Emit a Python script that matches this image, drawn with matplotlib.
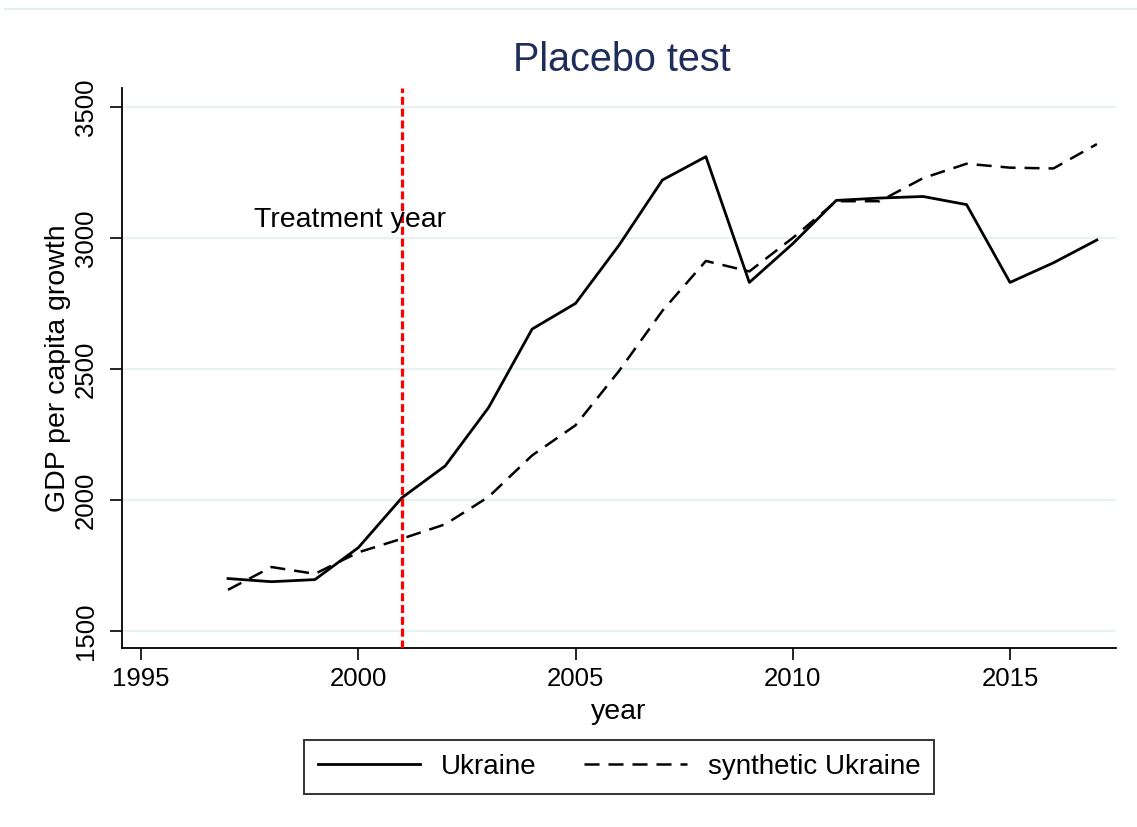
import numpy as np
import matplotlib
matplotlib.use("Agg")
import matplotlib.pyplot as plt
from matplotlib.lines import Line2D

plt.rcParams['font.family'] = ['Liberation Sans', 'DejaVu Sans']

years = list(range(1997, 2018))
ukraine = [1700, 1688, 1696, 1818, 2008, 2130, 2353, 2652, 2750, 2972, 3221,
           3310, 2830, 2978, 3143, 3152, 3158, 3127, 2830, 2905, 2992]
synthetic = [1657, 1744, 1718, 1800, 1852, 1907, 2012, 2170, 2285, 2492, 2722,
             2912, 2872, 3000, 3140, 3140, 3228, 3283, 3268, 3265, 3358]
treat_year = 2001
xticks = [1995, 2000, 2005, 2010, 2015]
yticks = [1500, 2000, 2500, 3000, 3500]

fig = plt.figure(figsize=(11.37, 8.27), dpi=100)
ax = fig.add_axes([122/1137, 1 - 648/827, (1116 - 122)/1137, (648 - 88)/827])

ax.plot(years, ukraine, color='black', lw=2.0, label='Ukraine', zorder=3)
ax.plot(years, synthetic, color='black', lw=1.8, ls=(0, (6, 3.6)),
        label='synthetic Ukraine', zorder=3)
ax.axvline(treat_year, color='#ff0000', lw=2.3, ls=(0, (2.5, 1.2)), zorder=4)
ax.text(1997.6, 3042, 'Treatment year', fontsize=20.5, ha='left',
        va='baseline', zorder=5)

ax.set_xlim(1994.56, 2017.44)
ax.set_ylim(1435, 3572)
ax.set_xticks(xticks)
ax.set_yticks(yticks)
ax.set_yticklabels([str(v) for v in yticks], rotation=90, va='center')
ax.tick_params(axis='both', labelsize=18.5, length=8.5, width=1.2,
               direction='out', color='black')
ax.tick_params(axis='x', pad=5)
ax.tick_params(axis='y', pad=9)
ax.grid(axis='y', color='#e9f1f3', lw=1.6, zorder=0)
ax.set_axisbelow(True)
for s in ['top', 'right']:
    ax.spines[s].set_visible(False)
for s in ['left', 'bottom']:
    ax.spines[s].set_linewidth(1.3)
ax.set_xlabel('year', fontsize=20.5, labelpad=6)
ax.set_ylabel('GDP per capita growth', fontsize=20.5, labelpad=2)

fig.text(0.5466, 1 - 60/827, 'Placebo test', fontsize=28.5, color='#1f2d5a',
         ha='center', va='center')

# faint line across the top of the screenshot
fig.add_artist(Line2D([5/1137, 1], [1 - 9/827, 1 - 9/827], color='#e6eef1',
                      lw=1.5))

leg = fig.legend(loc='center', bbox_to_anchor=(619/1137, 1 - 767/827),
                 ncol=2, fontsize=20, frameon=True, fancybox=False,
                 edgecolor='#333333', framealpha=1, handlelength=3.7,
                 handletextpad=0.75, columnspacing=1.7, borderpad=0.5,
                 borderaxespad=0)
leg.get_frame().set_linewidth(1.4)

fig.savefig('out.png', dpi=100)
